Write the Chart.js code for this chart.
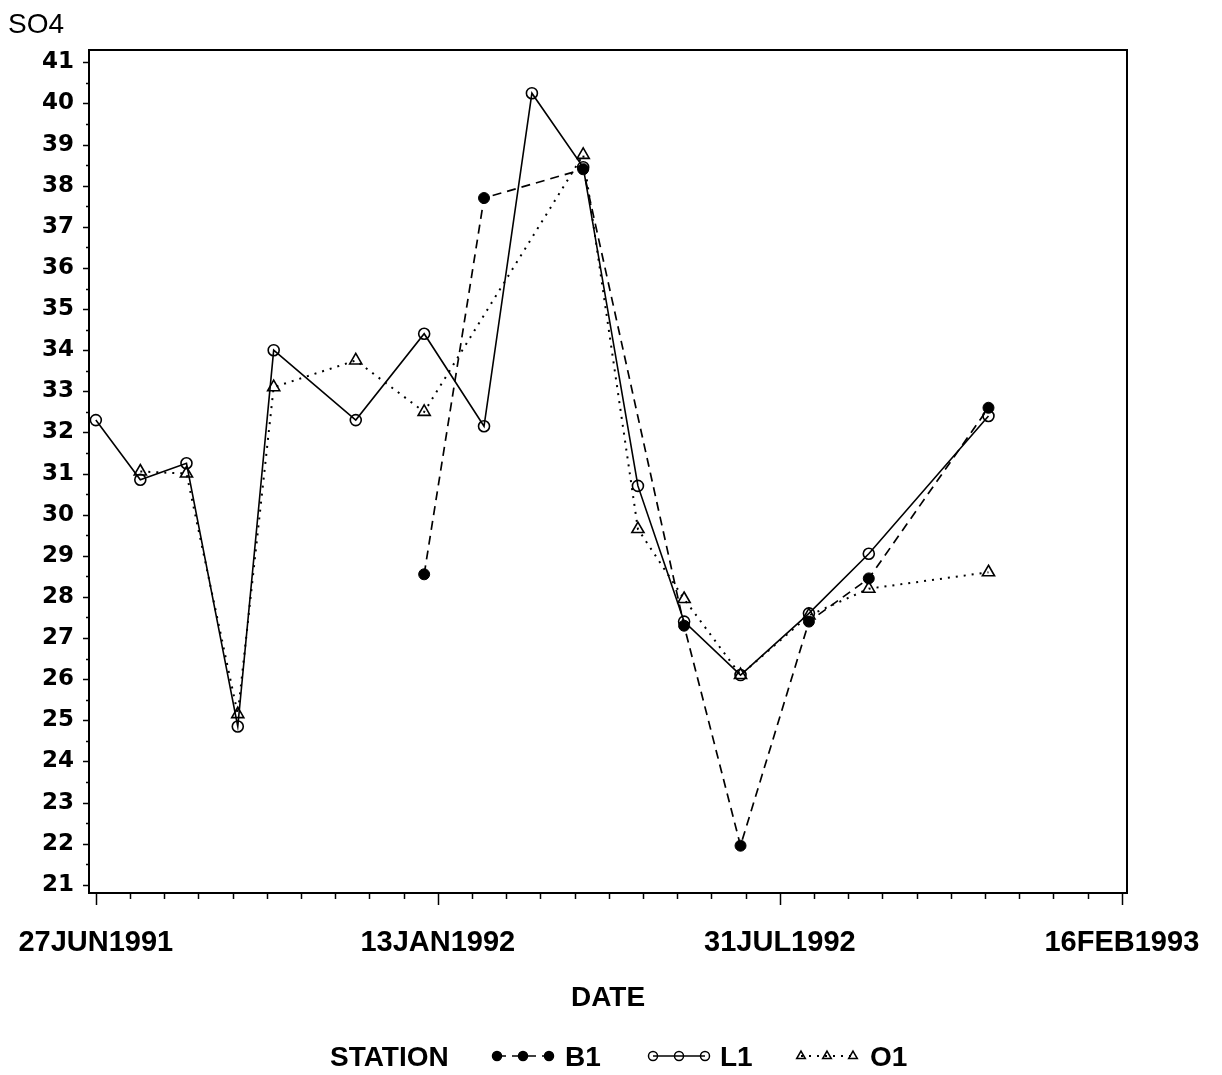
<!DOCTYPE html>
<html>
<head>
<meta charset="utf-8">
<script src="https://cdn.jsdelivr.net/npm/chart.js@4/dist/chart.umd.min.js"></script>
<style>
  html, body { margin: 0; padding: 0; background: #fff; }
  canvas { display: block; }
</style>
</head>
<body>
<canvas id="so4" width="1222" height="1075"></canvas>
<script>
// Sampling dates shared by the three stations
const sampleDates = [
  '1991-06-27', '1991-07-23', '1991-08-19', '1991-09-18', '1991-10-09', '1991-11-26',
  '1992-01-05', '1992-02-09', '1992-03-08', '1992-04-07', '1992-05-09', '1992-06-05',
  '1992-07-08', '1992-08-17', '1992-09-21', '1992-11-30'
];

// SO4 per station (null = not sampled)
const b1Values = [null, null, null, null, null, null, 28.55, 37.7, null, 38.4, null, 27.3, 21.95, 27.4, 28.45, 32.6];
const l1Values = [32.3, 30.85, 31.25, 24.85, 34.0, 32.3, 34.4, 32.15, 40.25, 38.45, 30.7, 27.4, 26.1, 27.6, 29.05, 32.4];
const o1Values = [null, 31.05, 31.0, 25.15, 33.1, 33.75, 32.5, null, null, 38.75, 29.65, 27.95, 26.1, 27.55, 28.2, 28.6];

// Axis labels
const xTickDates = ['1991-06-27', '1992-01-13', '1992-07-31', '1993-02-16'];
const yTickValues = [21, 22, 23, 24, 25, 26, 27, 28, 29, 30, 31, 32, 33, 34, 35, 36, 37, 38, 39, 40, 41];
const stationNames = ['B1', 'L1', 'O1'];

const MONTHS = ['JAN','FEB','MAR','APR','MAY','JUN','JUL','AUG','SEP','OCT','NOV','DEC'];
function dayOf(s) {
  const [y, m, d] = s.split('-').map(Number);
  return Date.UTC(y, m - 1, d) / 86400000;
}
function fmtDay(v) {
  const dt = new Date(Math.round(v) * 86400000);
  const dd = String(dt.getUTCDate()).padStart(2, '0');
  return dd + MONTHS[dt.getUTCMonth()] + dt.getUTCFullYear();
}
function series(values) {
  const pts = [];
  sampleDates.forEach((d, i) => { if (values[i] !== null) pts.push({ x: dayOf(d), y: values[i] }); });
  return pts;
}

const xStart = dayOf(xTickDates[0]);
const xEnd = dayOf(xTickDates[xTickDates.length - 1]);

// Frame, minor/major tick marks, y-variable name and the station legend
const decorations = {
  id: 'decorations',
  beforeDatasetsDraw(chart) {
    const { ctx, chartArea: a, scales } = chart;
    ctx.save();
    ctx.strokeStyle = '#000';
    ctx.lineWidth = 2;
    ctx.strokeRect(a.left, a.top, a.right - a.left, a.bottom - a.top);

    ctx.lineWidth = 1.5;
    ctx.beginPath();
    for (let d = xStart; d <= xEnd + 0.5; d += 20) {
      const px = Math.round(scales.x.getPixelForValue(d)) + 0.5;
      const major = ((d - xStart) % 200) === 0;
      ctx.moveTo(px, a.bottom);
      ctx.lineTo(px, a.bottom + (major ? 12 : 6));
    }
    for (let v = 21; v <= 41; v += 0.5) {
      const py = Math.round(scales.y.getPixelForValue(v)) + 0.5;
      const major = Number.isInteger(v);
      ctx.moveTo(a.left, py);
      ctx.lineTo(a.left - (major ? 6 : 3), py);
    }
    ctx.stroke();
    ctx.restore();
  },
  afterDraw(chart) {
    const { ctx } = chart;
    ctx.save();
    ctx.fillStyle = '#000';
    ctx.textBaseline = 'alphabetic';
    ctx.textAlign = 'left';
    ctx.font = '28px "Liberation Sans"';
    ctx.fillText('SO4', 8, 33);

    const ly = 1056;
    ctx.font = 'bold 28px "Liberation Sans"';
    ctx.fillText('STATION', 330, ly + 10);

    const sampleStarts = [497, 653, 801];
    const labelX = [565, 720, 870];
    chart.data.datasets.forEach((ds, i) => {
      const x0 = sampleStarts[i];
      const xs = [x0, x0 + 26, x0 + 52];
      ctx.save();
      ctx.strokeStyle = '#000';
      ctx.lineWidth = ds.borderWidth;
      ctx.setLineDash(ds.borderDash || []);
      ctx.beginPath();
      ctx.moveTo(xs[0], ly);
      ctx.lineTo(xs[2], ly);
      ctx.stroke();
      ctx.setLineDash([]);
      ctx.fillStyle = ds.pointBackgroundColor;
      ctx.strokeStyle = '#000';
      ctx.lineWidth = 1.5;
      xs.forEach(x => {
        Chart.helpers.drawPoint(ctx, {
          pointStyle: ds.pointStyle,
          radius: ds.pointStyle === 'triangle' ? 5 : 4.5,
          rotation: 0,
          borderWidth: 1.5
        }, x, ly);
      });
      ctx.restore();
      ctx.fillStyle = '#000';
      ctx.font = 'bold 28px "Liberation Sans"';
      ctx.fillText(stationNames[i], labelX[i], ly + 10);
    });
    ctx.restore();
  }
};

new Chart(document.getElementById('so4'), {
  type: 'line',
  data: {
    datasets: [
      {
        label: stationNames[0],
        data: series(b1Values),
        borderColor: '#000',
        borderWidth: 1.7,
        borderDash: [9, 6],
        pointStyle: 'circle',
        pointRadius: 5.5,
        pointBackgroundColor: '#000',
        pointBorderColor: '#000',
        pointBorderWidth: 1,
        tension: 0
      },
      {
        label: stationNames[1],
        data: series(l1Values),
        borderColor: '#000',
        borderWidth: 1.6,
        pointStyle: 'circle',
        pointRadius: 5.5,
        pointBackgroundColor: 'rgba(0,0,0,0)',
        pointBorderColor: '#000',
        pointBorderWidth: 1.6,
        tension: 0
      },
      {
        label: stationNames[2],
        data: series(o1Values),
        borderColor: '#000',
        borderWidth: 2,
        borderDash: [2, 6],
        pointStyle: 'triangle',
        pointRadius: 7,
        pointBackgroundColor: 'rgba(0,0,0,0)',
        pointBorderColor: '#000',
        pointBorderWidth: 1.6,
        tension: 0
      }
    ]
  },
  options: {
    responsive: false,
    animation: false,
    devicePixelRatio: 1,
    events: [],
    layout: { padding: { top: 50, right: 95, left: 0, bottom: 0 } },
    plugins: { legend: { display: false }, title: { display: false }, tooltip: { enabled: false } },
    scales: {
      x: {
        type: 'linear',
        min: xStart - 4,
        max: xEnd + 3,
        grid: { display: false, drawTicks: false },
        border: { display: false },
        afterBuildTicks: s => { s.ticks = xTickDates.map(d => ({ value: dayOf(d) })); },
        afterFit: s => { s.height = 182; s.paddingLeft = 0; s.paddingRight = 0; },
        ticks: {
          autoSkip: false,
          maxRotation: 0,
          padding: 33,
          color: '#000',
          font: { family: 'Liberation Sans', weight: 'bold', size: 29 },
          callback: v => fmtDay(v)
        },
        title: {
          display: true,
          text: 'DATE',
          color: '#000',
          font: { family: 'Liberation Sans', weight: 'bold', size: 28 },
          padding: { top: 0, bottom: 60 }
        }
      },
      y: {
        type: 'linear',
        min: 20.8,
        max: 41.3,
        grid: { display: false, drawTicks: false },
        border: { display: false },
        afterBuildTicks: s => { s.ticks = yTickValues.map(v => ({ value: v })); },
        afterFit: s => { s.width = 89; s.paddingTop = 0; s.paddingBottom = 0; },
        ticks: {
          padding: 15,
          color: '#000',
          font: { family: 'DejaVu Sans', weight: 'bold', size: 23 }
        }
      }
    }
  },
  plugins: [decorations]
});
</script>
</body>
</html>
